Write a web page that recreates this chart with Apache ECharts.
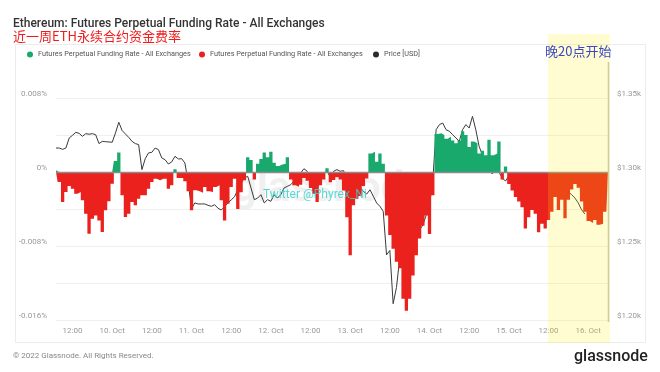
<!DOCTYPE html>
<html>
<head>
<meta charset="utf-8">
<script src="https://cdn.jsdelivr.net/npm/echarts@6/dist/echarts.min.js"></script>
<style>html,body{margin:0;padding:0;background:#fff}#c{width:660px;height:372px}</style>
</head>
<body>
<div id="c"></div>
<script>
// Hourly categories: 9 Oct 2022 07:00 UTC -> 16 Oct 2022 06:00 UTC
const startTime = Date.UTC(2022, 9, 9, 7);
const hourCount = 168;
const categories = [];
for (let k = 0; k < hourCount; k++) categories.push(startTime + k * 3600000);

// Funding rate in %
const fundingRate = [
  0.0002, -0.00108, -0.00324, -0.00216, -0.00151, -0.0018, -0.00234, -0.00216, -0.00306, -0.0045,
  -0.00667, -0.00505, -0.00469, -0.00523, -0.00649, -0.00414, -0.00317, -0.00126, 0.0012, 0.0021,
  -0.00252, -0.00487, -0.0045, -0.00324, -0.0036, -0.00288, -0.00252, -0.00252, -0.0018, -0.00108,
  -0.00072, -0.0009, -0.00072, -0.00072, -0.0018, -0.00144, 0.0003, -0.00065, -0.00065, -0.001,
  -0.00209, -0.00414, -0.00198, -0.00209, -0.00223, -0.00162, -0.00209, -0.00216, -0.00162, -0.00144,
  -0.00306, -0.00523, -0.00342, -0.00162, -0.00072, -0.004, -0.0022, -0.0009, 0.0016, 0.0013,
  -0.0008, 0.0009, 0.0014, 0.0021, 0.0016, 0.0022, 0.001, 0.00065, 0.0008, 0.0009,
  0.0016, -0.0008, -0.00144, -0.0016, -0.00137, -0.00065, -0.00094, -0.00173, -0.00234, -0.00324,
  -0.00144, -0.0008, 0.0004, -0.0011, -0.00086, -0.00058, -0.0008, -0.002, -0.0049, -0.009,
  -0.0036, -0.0029, -0.0026, -0.0015, -0.0007, 0.002, 0.0022, 0.0011, 0.002, 0.0009,
  -0.0047, -0.0068, -0.0083, -0.0097, -0.0104, -0.0137, -0.015, -0.0137, -0.0112, -0.009,
  -0.0072, -0.0058, -0.0047, -0.0067, -0.0025, 0.0041, 0.0042, 0.004, 0.0036, 0.0038,
  0.0034, 0.0031, 0.0034, 0.0044, 0.004, 0.0027, 0.0033, 0.0031, 0.002, 0.0023,
  0.0018, 0.0035, 0.0018, 0.002, 0.0033, -0.0008, 0.0006, -0.0013, -0.002, -0.0027,
  -0.0032, -0.0038, -0.0061, -0.0049, -0.0041, -0.0045, -0.0065, -0.0056, -0.0061, -0.0052,
  -0.0043, -0.0027, -0.0041, -0.003, -0.005, -0.003, -0.0019, -0.0013, -0.0017, -0.0032,
  -0.0043, -0.0053, -0.0055, -0.0052, -0.0057, -0.0056, -0.0043, -0.0044
];

// ETH price in USD, ends 16 Oct ~00:00
const price = [
  1316.2, 1316.2, 1315.3, 1316.2, 1323, 1324.8, 1326.8, 1326.1, 1324.1, 1325.9,
  1325.5, 1325.9, 1325.2, 1319.2, 1320.7, 1320.5, 1320.3, 1320.1, 1326.4, 1333.6,
  1328, 1325.7, 1323.4, 1320.7, 1319.2, 1318.5, 1301.6, 1309, 1312.9, 1313.3,
  1316.2, 1315.1, 1309.5, 1308.3, 1305.4, 1306.8, 1310.6, 1308.8, 1309, 1306.1,
  1292.6, 1275.2, 1279.1, 1278.4, 1278.4, 1278.4, 1277.5, 1276.8, 1277.9, 1275.5,
  1274.3, 1276.6, 1279.1, 1281.1, 1283.3, 1287.8, 1292.6, 1295.9, 1297.1, 1289.2,
  1281.3, 1282.4, 1284.7, 1279.1, 1281.3, 1280.2, 1284.7, 1282.4, 1284.7, 1289.2,
  1290.3, 1291.4, 1293.7, 1294.8, 1299.3, 1302.2, 1300.5, 1292.6, 1288.0, 1289.2,
  1293.7, 1299.3, 1300.5, 1296.4, 1300.5, 1301.6, 1300.5, 1300.9, 1295.9, 1291.4,
  1292.6, 1290.3, 1289.2, 1287, 1285.1, 1288, 1283.6, 1279.1, 1276.8, 1273.4,
  1244, 1247, 1211, 1222, 1242, 1243.9, 1247.3, 1250.7, 1254.1, 1257.4,
  1260.8, 1264.2, 1270.9, 1277.7, 1294.6, 1328.6, 1332, 1333.1, 1328.6, 1327.5,
  1325.2, 1323, 1320.7, 1328.6, 1332, 1329.7, 1337.6, 1328.6, 1317.4, 1311.5,
  1304.7, 1301.4, 1298.7, 1301.4, 1300, 1295.9, 1293.9, 1297.3, 1294.6, 1291.2,
  1287.8, 1286.5, 1284.5, 1282.4, 1281.1, 1281.1, 1279.1, 1281.1, 1282.4, 1283.8,
  1284.5, 1285.8, 1286.5, 1285.1, 1284.5, 1286.5, 1284.7, 1282.4, 1279.1, 1274.5,
  1271.6
];

const leftTicks = [-0.016, -0.008, 0, 0.008];
const rightTicks = [1200, 1250, 1300, 1350];

const nameGreen = 'Futures Perpetual Funding Rate - All Exchanges';
const nameRed = 'Futures Perpetual Funding Rate - All Exchanges\u200b';
const namePrice = 'Price [USD]';

// split into positive part (green) and negative part (red)
const positive = fundingRate.map(v => Math.max(v, 0));
const negative = fundingRate.map(v => Math.min(v, 0));

const months = ['Jan','Feb','Mar','Apr','May','Jun','Jul','Aug','Sep','Oct','Nov','Dec'];
function hourOf(ts) { return new Date(ts).getUTCHours(); }

const chart = echarts.init(document.getElementById('c'), null, {renderer: 'canvas'});
const FONT = 'Roboto, "Noto Sans", sans-serif';
const CJK = '"Noto Sans CJK SC", sans-serif';
const legendBase = {
  top: 51, padding: 0, icon: 'circle', itemWidth: 6, itemHeight: 6, itemGap: 10,
  textStyle: {fontSize: 7.3, color: '#555', fontFamily: FONT},
  selectedMode: false
};
const GREEN = '#19a96c', RED = '#ea211d';

chart.setOption({
  animation: false,
  backgroundColor: '#fff',
  textStyle: {fontFamily: FONT},
  title: [
    {text: 'Ethereum: Futures Perpetual Funding Rate - All Exchanges', left: 13, top: 18, padding: 0,
     textStyle: {fontSize: 12, fontWeight: 500, color: '#333', fontFamily: FONT}},
    {text: '近一周ETH永续合约资金费率', left: 13, top: 30, padding: 0,
     textStyle: {fontSize: 13, fontWeight: 'normal', color: '#f01c1c', fontFamily: CJK}}
  ],
  legend: [
    Object.assign({}, legendBase, {left: 27, data: [nameGreen]}),
    Object.assign({}, legendBase, {left: 199, data: [nameRed]}),
    Object.assign({}, legendBase, {left: 373, data: [namePrice]})
  ],
  grid: {left: 56, right: 52, top: 98, bottom: 52},
  xAxis: {
    type: 'category', data: categories, boundaryGap: false,
    axisLine: {show: false}, axisTick: {show: false}, splitLine: {show: false},
    axisLabel: {
      color: '#999', fontSize: 8, margin: 7,
      interval: (idx, val) => hourOf(Number(val)) % 12 === 0,
      formatter: (val) => {
        const d = new Date(Number(val));
        return d.getUTCHours() === 12 ? '12:00' : d.getUTCDate() + '. ' + months[d.getUTCMonth()];
      }
    }
  },
  yAxis: [
    {type: 'value', min: -0.016, max: 0.008, interval: 0.004,
     axisLine: {show: false}, axisTick: {show: false},
     splitLine: {lineStyle: {color: '#efefef', width: 1}},
     axisLabel: {color: '#999', fontSize: 8, margin: 9, verticalAlign: 'bottom',
       formatter: v => {
         const r = Math.round(v * 1000) / 1000;
         if (!leftTicks.some(t => Math.abs(t - r) < 1e-9)) return '';
         return r === 0 ? '0%' : r.toFixed(3) + '%';
       }}},
    {type: 'value', min: 1200, max: 1350, interval: 25, position: 'right',
     axisLine: {show: false}, axisTick: {show: false}, splitLine: {show: false},
     axisLabel: {color: '#999', fontSize: 8, margin: 9, verticalAlign: 'bottom',
       formatter: v => rightTicks.indexOf(Math.round(v)) >= 0 ? '$' + (v / 1000).toFixed(2) + 'k' : ''}}
  ],
  series: [
    {name: namePrice, type: 'line', yAxisIndex: 1, data: price, symbol: 'none', showSymbol: false,
     itemStyle: {color: '#2b2b2b'}, lineStyle: {color: '#3a3a3a', width: 1}, z: 1},
    {name: nameGreen, type: 'line', step: 'middle', data: positive, symbol: 'none', showSymbol: false,
     itemStyle: {color: GREEN}, lineStyle: {width: 0, color: GREEN},
     areaStyle: {color: GREEN, opacity: 1, origin: 0}, z: 3},
    {name: nameRed, type: 'line', step: 'middle', data: negative, symbol: 'none', showSymbol: false,
     itemStyle: {color: RED}, lineStyle: {width: 0, color: RED},
     areaStyle: {color: RED, opacity: 1, origin: 0}, z: 3,
     markLine: {silent: true, symbol: ['none', 'none'], label: {show: false},
       lineStyle: {color: '#8c8c8c', width: 1.3, type: 'solid'}, data: [{yAxis: 0}]}}
  ],
  graphic: [
    {type: 'rect', z: -1, silent: true,
     shape: {x: 15.5, y: 44.5, width: 630, height: 298},
     style: {fill: 'none', stroke: '#ececec', lineWidth: 1}},
    {type: 'text', z: 0, silent: true,
     style: {text: 'glassnode', x: 330, y: 190, textAlign: 'center', textVerticalAlign: 'middle',
       fontSize: 42, fontWeight: 'bold', fontFamily: FONT, fill: 'rgba(0,0,0,0.06)'}},
    {type: 'line', z: 20, silent: true,
     shape: {x1: 608.5, y1: 62, x2: 608.5, y2: 322},
     style: {stroke: '#c4c4c4', lineWidth: 1.5}},
    {type: 'text', z: 50, silent: true,
     style: {text: 'Twitter @Phyrex_Ni', x: 263, y: 195, textAlign: 'left', textVerticalAlign: 'middle',
       fontSize: 12, fontFamily: FONT, fill: 'rgba(60,210,205,0.85)'}},
    {type: 'rect', z: 100, silent: true,
     shape: {x: 548, y: 34, width: 62, height: 309},
     style: {fill: 'rgba(255,238,0,0.18)'}},
    {type: 'text', z: 101, silent: true,
     style: {text: '晚20点开始', x: 545, y: 51, textAlign: 'left', textVerticalAlign: 'middle',
       fontSize: 13, fontFamily: CJK, fill: '#3a47c6'}},
    {type: 'text', z: 10, silent: true,
     style: {text: '© 2022 Glassnode. All Rights Reserved.', x: 13, y: 356, textAlign: 'left',
       textVerticalAlign: 'middle', fontSize: 8, fontFamily: FONT, fill: '#888'}},
    {type: 'text', z: 10, silent: true,
     style: {text: 'glassnode', x: 574, y: 357, textAlign: 'left', textVerticalAlign: 'middle',
       fontSize: 16, fontWeight: 500, fontFamily: FONT, fill: '#222'}}
  ]
});
</script>
</body>
</html>
